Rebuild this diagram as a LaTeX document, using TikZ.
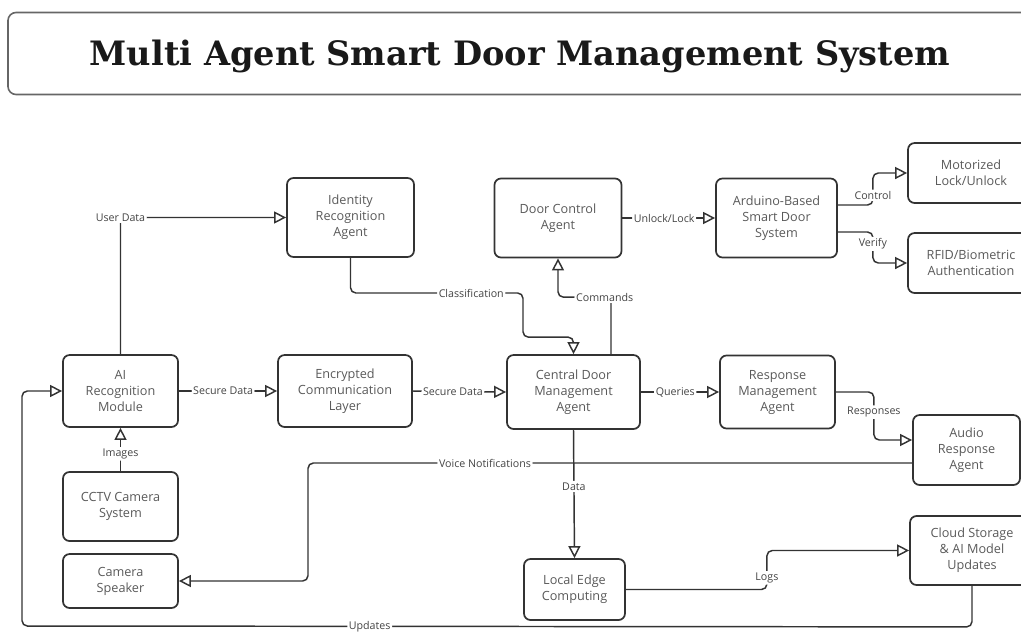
\documentclass[tikz,border=0pt]{standalone}
\usepackage{fontspec}
\setmainfont{Open Sans}
\newfontfamily\titlefont{DejaVu Serif}
\usetikzlibrary{arrows.meta,calc}
\definecolor{linegray}{HTML}{333333}
\definecolor{textgray}{HTML}{5A5A5A}
\definecolor{labelgray}{HTML}{444444}
\definecolor{framegray}{HTML}{666666}

\begin{document}
\begin{tikzpicture}[x=0.75pt,y=-0.75pt,
    box/.style={draw=linegray, line width=1.3pt, rounded corners=5pt, fill=white,
        align=center, text=textgray, font=\fontsize{9.5}{12}\selectfont, inner sep=2pt},
    conn/.style={draw=linegray, line width=1.1pt, rounded corners=4pt,
        -{Triangle[open,length=9pt,width=9pt]}},
    lbl/.style={fill=white, text=labelgray, font=\fontsize{8}{9}\selectfont, inner sep=1.2pt}]
    \useasboundingbox (0,0) rectangle (1021,633);

    % Title banner
    \node[draw=framegray, line width=1.2pt, rounded corners=6pt, minimum width=768pt,
        minimum height=61.5pt, text height=18pt, text depth=0pt,
        font=\titlefont\bfseries\fontsize{25.2}{30}\selectfont,
        text=black!90] (title) at (520,53.5) {Multi Agent Smart Door Management System};

    % Agents and devices
    \node[box, minimum width=95.3pt, minimum height=59.3pt] (ident) at (350.5,217.5) {Identity\\Recognition\\Agent};
    \node[box, minimum width=95.3pt, minimum height=59.3pt] (door) at (558,218) {Door Control\\Agent};
    \node[box, minimum width=90.8pt, minimum height=59.3pt] (ardu) at (776.5,218) {Arduino-Based\\Smart Door\\System};
    \node[box, minimum width=94.5pt, minimum height=45pt] (motor) at (971,173) {Motorized\\Lock/Unlock};
    \node[box, minimum width=94.5pt, minimum height=45pt] (rfid) at (971,263) {RFID/Biometric\\Authentication};
    \node[box, minimum width=86.3pt, minimum height=54pt] (airec) at (120.5,391) {AI\\Recognition\\Module};
    \node[box, minimum width=100.5pt, minimum height=54pt] (encr) at (345,391) {Encrypted\\Communication\\Layer};
    \node[box, minimum width=99.8pt, minimum height=55.5pt] (central) at (573.5,392) {Central Door\\Management\\Agent};
    \node[box, minimum width=86.3pt, minimum height=54.8pt] (resp) at (777.5,392) {Response\\Management\\Agent};
    \node[box, minimum width=80.3pt, minimum height=52.5pt] (audio) at (966.5,450) {Audio\\Response\\Agent};
    \node[box, minimum width=86.3pt, minimum height=51.8pt] (cctv) at (120.5,506.5) {CCTV Camera\\System};
    \node[box, minimum width=86.3pt, minimum height=40.5pt] (speaker) at (120.5,581) {Camera\\Speaker};
    \node[box, minimum width=75.8pt, minimum height=45.8pt] (edge) at (574.5,589.5) {Local Edge\\Computing};
    \node[box, minimum width=93pt, minimum height=51.8pt] (cloud) at (972,550.5) {Cloud Storage\\\& AI Model\\Updates};

    % Data flows
    \draw[conn] (airec.north) |- (ident.west) node[lbl, pos=0.5] {User Data};
    \draw[conn] (ident.south) |- (523,293) node[lbl, pos=0.85] {Classification}
        |- ($(central.north)+(0,-17)$) -- (central.north);
    \draw[conn] ($(central.north)+(37.5,0)$) -- ++(0,-57) -| (door.south) node[lbl, pos=0.06] {Commands};
    \draw[conn] (door.east) -- (ardu.west) node[lbl, pos=0.45] {Unlock/Lock};
    \draw[conn] ($(ardu.east)+(0,-13)$) -- ++(35,0) |- (motor.west) node[lbl, pos=0.15] {Control};
    \draw[conn] ($(ardu.east)+(0,14)$) -- ++(35,0) |- (rfid.west) node[lbl, pos=0.19] {Verify};
    \draw[conn] (airec.east) -- (encr.west) node[lbl, pos=0.45] {Secure Data};
    \draw[conn] (encr.east) -- (central.west) node[lbl, pos=0.43] {Secure Data};
    \draw[conn] (central.east) -- (resp.west) node[lbl, pos=0.44] {Queries};
    \draw[conn] (resp.east) -- ++(38,0) |- ($(audio.west)+(0,-10)$) node[lbl, pos=0.21] {Responses};
    \draw[conn] ($(audio.west)+(0,13)$) -- (308,463) node[lbl, pos=0.707] {Voice Notifications}
        |- (speaker.east);
    \draw[conn] (central.south) -- (edge.north) node[lbl, pos=0.44] {Data};
    \draw[conn] (edge.east) -- ++(141,0) |- (cloud.west) node[lbl, pos=0.15] {Logs};
    \draw[conn] (cloud.south) -- ++(0,41) -- (22,626) node[lbl, pos=0.634] {Updates} |- (airec.west);
    \draw[conn] (cctv.north) -- (airec.south) node[lbl, pos=0.4] {Images};
\end{tikzpicture}
\end{document}
